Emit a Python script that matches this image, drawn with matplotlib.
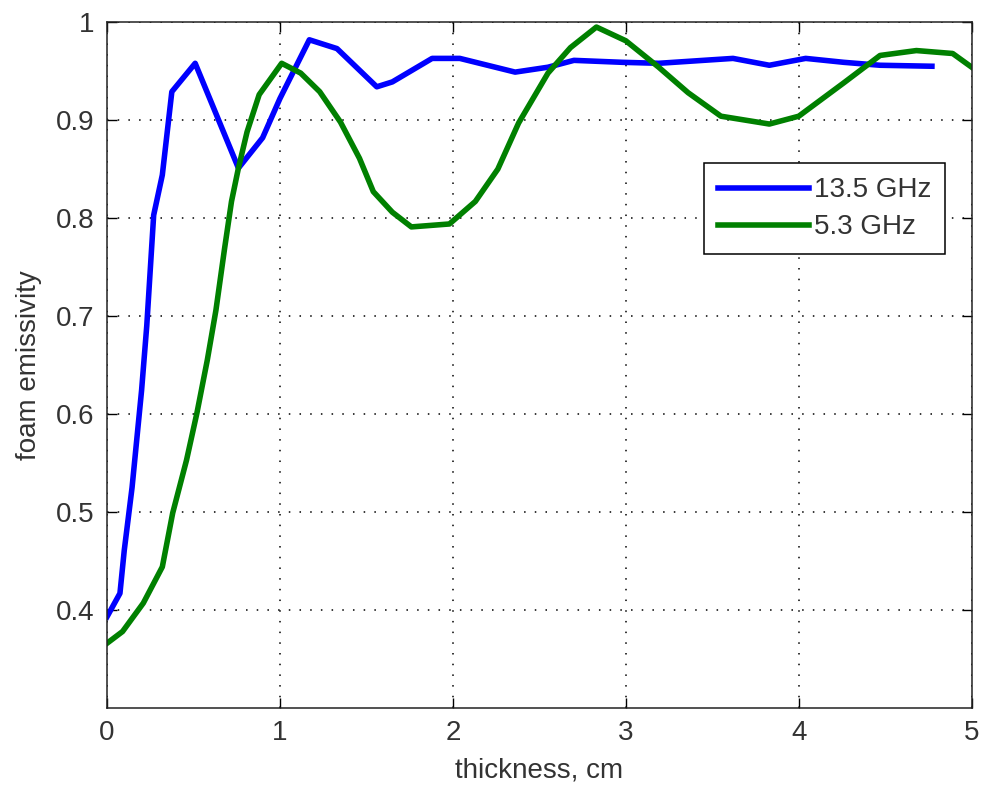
import matplotlib.pyplot as plt

plt.rcParams['font.family'] = ['Liberation Sans', 'DejaVu Sans']

# 13.5 GHz curve
x_13 = [0.0, 0.075, 0.10, 0.145, 0.17, 0.20, 0.23, 0.27, 0.32, 0.375, 0.51,
        0.76, 0.90, 1.0, 1.17, 1.33, 1.56, 1.65, 1.88, 2.04, 2.36, 2.55,
        2.70, 2.98, 3.19, 3.62, 3.83, 4.04, 4.26, 4.47, 4.77]
y_13 = [0.393, 0.417, 0.461, 0.525, 0.570, 0.624, 0.690, 0.803, 0.844, 0.929, 0.958,
        0.851, 0.882, 0.922, 0.982, 0.973, 0.934, 0.939, 0.963, 0.963, 0.949, 0.954,
        0.961, 0.959, 0.958, 0.963, 0.956, 0.963, 0.959, 0.956, 0.955]

# 5.3 GHz curve
x_5 = [0.0, 0.09, 0.21, 0.32, 0.38, 0.46, 0.52, 0.58, 0.63, 0.68, 0.72, 0.76,
       0.81, 0.88, 1.01, 1.12, 1.23, 1.35, 1.46, 1.54, 1.65, 1.76, 1.98, 2.13,
       2.26, 2.38, 2.55, 2.68, 2.83, 3.0, 3.19, 3.36, 3.55, 3.83, 4.0, 4.26,
       4.47, 4.68, 4.89, 5.0]
y_5 = [0.366, 0.378, 0.407, 0.444, 0.499, 0.553, 0.601, 0.655, 0.706, 0.769, 0.817, 0.851,
       0.888, 0.926, 0.958, 0.948, 0.929, 0.898, 0.861, 0.827, 0.806, 0.791, 0.794, 0.817,
       0.850, 0.897, 0.948, 0.974, 0.995, 0.981, 0.954, 0.928, 0.904, 0.896, 0.904, 0.938,
       0.966, 0.971, 0.968, 0.954]

fig = plt.figure(figsize=(9.86, 7.91), dpi=100)
ax = fig.add_axes([0.1085, 0.105, 0.877, 0.867])

ax.plot(x_13, y_13, color=(0, 0, 1), lw=4, label='13.5 GHz')
ax.plot(x_5, y_5, color=(0, 0.5, 0), lw=4, label='5.3 GHz')

ax.set_xlim(0, 5)
ax.set_ylim(0.3, 1.0)
ax.set_xticks([0, 1, 2, 3, 4, 5])
ax.set_yticks([0.4, 0.5, 0.6, 0.7, 0.8, 0.9, 1.0])
ax.set_yticklabels(['0.4', '0.5', '0.6', '0.7', '0.8', '0.9', '1'])
ax.tick_params(direction='in', top=True, right=True, labelsize=20, length=7, width=1,
               pad=9, labelcolor='#333333')
ax.grid(True, linestyle=(0, (1, 6)), color='black', lw=1.1)
for s in ax.spines.values():
    s.set_linewidth(1.1)
    s.set_color('#222222')

ax.set_xlabel('thickness, cm', fontsize=20, labelpad=8, color='#333333')
ax.set_ylabel('foam emissivity', fontsize=20, labelpad=10, color='#333333')

leg = ax.legend(loc='upper right', bbox_to_anchor=(0.969, 0.794), fontsize=20,
                frameon=True, fancybox=False, edgecolor='black', framealpha=1,
                handlelength=3.3, borderpad=0.5, labelspacing=0.4, handletextpad=0.15,
                borderaxespad=0)
leg.get_frame().set_linewidth(1.1)
for t in leg.get_texts():
    t.set_color('#333333')

fig.savefig('out.png', dpi=100)
